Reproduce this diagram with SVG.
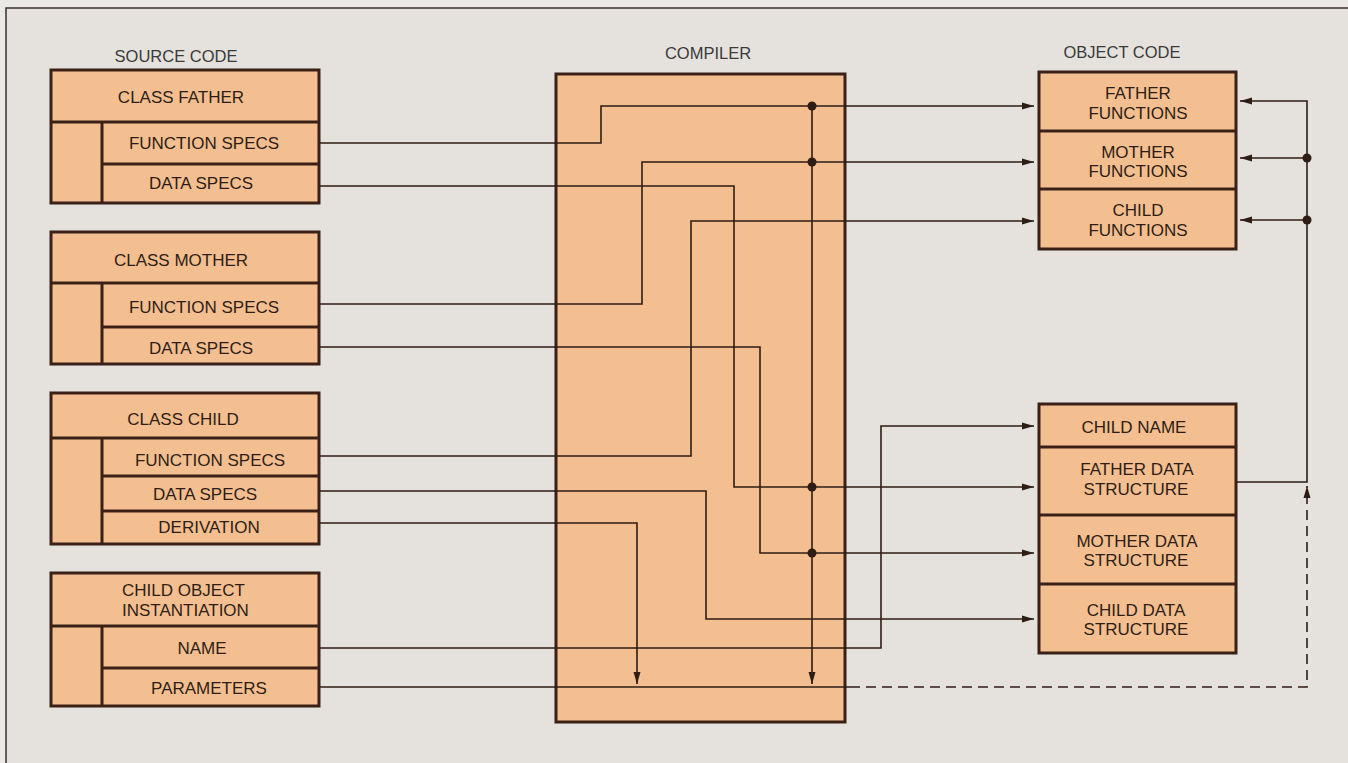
<svg xmlns="http://www.w3.org/2000/svg" width="1348" height="763" viewBox="0 0 1348 763">
<style>
.bg{fill:#e5e2dd}
.box{fill:#f4bf90;stroke:#3a2016;stroke-width:3}
.sep{stroke:#3a2016;stroke-width:3;fill:none}
.t{font-family:"Liberation Sans",Arial,sans-serif;font-size:17px;fill:#2e1d14;text-anchor:middle}
.h{font-family:"Liberation Sans",Arial,sans-serif;font-size:16.5px;fill:#3a3a3a;text-anchor:middle}
.c{fill:none;stroke:#2e1d14;stroke-width:1.6}
.d{fill:none;stroke:#2e1d14;stroke-width:1.6;stroke-dasharray:10 6}
.dot{fill:#2e1d14}
</style>
<defs>
<marker id="ah" markerUnits="userSpaceOnUse" markerWidth="13" markerHeight="9" refX="12" refY="4.5" orient="auto">
<path d="M0,1 L12,4.5 L0,8 z" fill="#2e1d14"/>
</marker>
</defs>
<rect x="0" y="0" width="1348" height="763" fill="#ebe9e6"/>
<rect x="6" y="8" width="1400" height="800" class="bg" stroke="#3a3030" stroke-width="1.5"/>

<text class="h" x="176" y="62">SOURCE CODE</text>
<text class="h" x="708" y="59">COMPILER</text>
<text class="h" x="1122" y="58">OBJECT CODE</text>

<g id="compiler">
<rect class="box" x="556" y="74" width="289" height="648"/>
</g>

<g id="class-father">
<rect class="box" x="51" y="70" width="268" height="133"/>
<path class="sep" d="M51,122 H319 M102,122 V203 M102,164 H319"/>
<text class="t" x="181" y="103">CLASS FATHER</text>
<text class="t" x="204" y="149">FUNCTION SPECS</text>
<text class="t" x="201" y="189">DATA SPECS</text>
</g>

<g id="class-mother">
<rect class="box" x="51" y="232" width="268" height="132"/>
<path class="sep" d="M51,283 H319 M102,283 V364 M102,327 H319"/>
<text class="t" x="181" y="266">CLASS MOTHER</text>
<text class="t" x="204" y="313">FUNCTION SPECS</text>
<text class="t" x="201" y="354">DATA SPECS</text>
</g>

<g id="class-child">
<rect class="box" x="51" y="393" width="268" height="151"/>
<path class="sep" d="M51,438 H319 M102,438 V544 M102,476 H319 M102,511 H319"/>
<text class="t" x="183" y="425">CLASS CHILD</text>
<text class="t" x="210" y="466">FUNCTION SPECS</text>
<text class="t" x="205" y="500">DATA SPECS</text>
<text class="t" x="209" y="533">DERIVATION</text>
</g>

<g id="child-object-instantiation">
<rect class="box" x="51" y="573" width="268" height="133"/>
<path class="sep" d="M51,626 H319 M102,626 V706 M102,668 H319"/>
<text class="t" x="122" y="596" style="text-anchor:start">CHILD OBJECT</text>
<text class="t" x="122" y="616" style="text-anchor:start">INSTANTIATION</text>
<text class="t" x="202" y="654">NAME</text>
<text class="t" x="209" y="694">PARAMETERS</text>
</g>

<g id="object-functions">
<rect class="box" x="1039" y="72" width="197" height="177"/>
<path class="sep" d="M1039,131 H1236 M1039,189 H1236"/>
<text class="t" x="1138" y="99">FATHER</text>
<text class="t" x="1138" y="119">FUNCTIONS</text>
<text class="t" x="1138" y="158">MOTHER</text>
<text class="t" x="1138" y="177">FUNCTIONS</text>
<text class="t" x="1138" y="216">CHILD</text>
<text class="t" x="1138" y="236">FUNCTIONS</text>
</g>

<g id="object-data">
<rect class="box" x="1039" y="404" width="197" height="249"/>
<path class="sep" d="M1039,447 H1236 M1039,515 H1236 M1039,584 H1236"/>
<text class="t" x="1134" y="433">CHILD NAME</text>
<text class="t" x="1137" y="475">FATHER DATA</text>
<text class="t" x="1136" y="495">STRUCTURE</text>
<text class="t" x="1137" y="547">MOTHER DATA</text>
<text class="t" x="1136" y="566">STRUCTURE</text>
<text class="t" x="1136" y="616">CHILD DATA</text>
<text class="t" x="1136" y="635">STRUCTURE</text>
</g>

<g id="connectors">
<path class="c" d="M319,143 H601 V106 H1034" marker-end="url(#ah)"/>
<path class="c" d="M319,186 H734 V487 H1034" marker-end="url(#ah)"/>
<path class="c" d="M319,304 H642 V162 H1034" marker-end="url(#ah)"/>
<path class="c" d="M319,347 H760 V553 H1034" marker-end="url(#ah)"/>
<path class="c" d="M319,456 H691 V221 H1034" marker-end="url(#ah)"/>
<path class="c" d="M319,491 H706 V619 H1034" marker-end="url(#ah)"/>
<path class="c" d="M319,523 H637 V684" marker-end="url(#ah)"/>
<path class="c" d="M319,648 H881 V426 H1034" marker-end="url(#ah)"/>
<path class="c" d="M319,687 H850"/>
<path class="d" d="M850,687 H1307 V486" marker-end="url(#ah)"/>
<path class="c" d="M812,106 V684" marker-end="url(#ah)"/>
<path class="c" d="M1236,482 H1307 V101 H1240" marker-end="url(#ah)"/>
<path class="c" d="M1307,158 H1240" marker-end="url(#ah)"/>
<path class="c" d="M1307,220 H1240" marker-end="url(#ah)"/>
<circle class="dot" cx="812" cy="106" r="4.5"/>
<circle class="dot" cx="812" cy="162" r="4.5"/>
<circle class="dot" cx="812" cy="487" r="4.5"/>
<circle class="dot" cx="812" cy="553" r="4.5"/>
<circle class="dot" cx="1307" cy="158" r="4.5"/>
<circle class="dot" cx="1307" cy="220" r="4.5"/>
</g>
</svg>
